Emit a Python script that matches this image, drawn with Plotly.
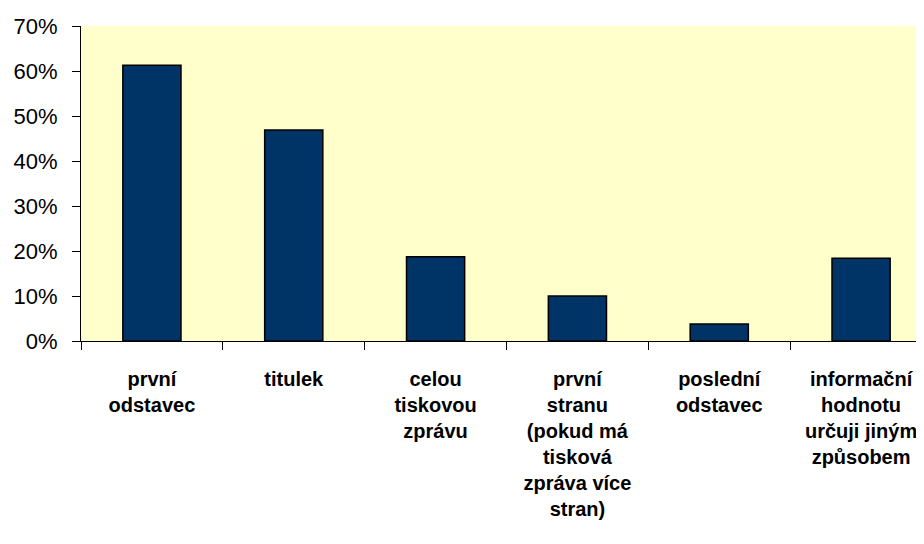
import plotly.graph_objects as go

categories = [
    "první<br>odstavec",
    "titulek",
    "celou<br>tiskovou<br>zprávu",
    "první<br>stranu<br>(pokud má<br>tisková<br>zpráva více<br>stran)",
    "poslední<br>odstavec",
    "informační<br>hodnotu<br>určuji jiným<br>způsobem",
]
values = [0.613, 0.469, 0.187, 0.100, 0.038, 0.184]
y_ticks = [0, 0.1, 0.2, 0.3, 0.4, 0.5, 0.6, 0.7]

fig = go.Figure(
    go.Bar(
        x=categories,
        y=values,
        width=0.41,
        marker=dict(color="#003366", line=dict(color="#000000", width=1.5)),
    )
)

fig.update_layout(
    width=924,
    height=544,
    margin=dict(l=73, r=0, t=18, b=211),
    paper_bgcolor="#FFFFFF",
    plot_bgcolor="#FFFFCC",
    showlegend=False,
    font=dict(family="Liberation Sans, Arial, sans-serif", color="#000000"),
)

fig.update_xaxes(
    type="category",
    range=[-0.5, 5.5],
    showline=True,
    linecolor="#000000",
    linewidth=1,
    ticks="outside",
    tickson="boundaries",
    ticklen=8,
    tickcolor="#000000",
    tickwidth=1,
    showgrid=False,
    tickangle=0,
    tickfont=dict(size=20, family="Liberation Sans, Arial, sans-serif", weight="bold"),
    ticklabelstandoff=20,
)

fig.update_yaxes(
    range=[0, 0.7],
    tickvals=y_ticks,
    tickformat=".0%",
    showline=True,
    linecolor="#000000",
    linewidth=1,
    ticks="outside",
    ticklen=8,
    tickcolor="#000000",
    showgrid=False,
    zeroline=False,
    tickfont=dict(size=22),
    ticklabelstandoff=10,
)

fig.write_html("out.html")
